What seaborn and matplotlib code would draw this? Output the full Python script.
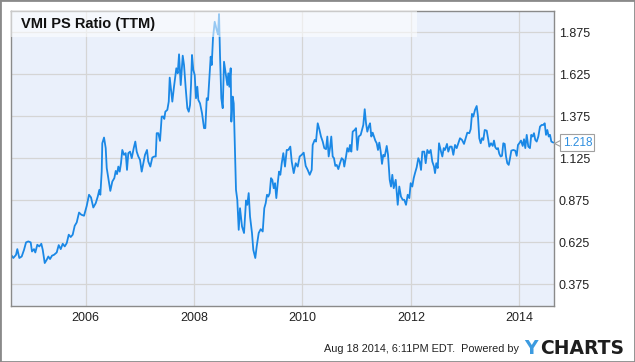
import numpy as np
import pandas as pd
import matplotlib
matplotlib.use("Agg")
import matplotlib.pyplot as plt
import seaborn as sns
from matplotlib.patches import Rectangle

# VMI price / sales ratio (TTM)
years = [
    2004.635, 2004.664, 2004.714, 2004.738, 2004.775, 2004.819, 2004.862, 2004.899, 2004.941, 2004.985,
    2005.009, 2005.046, 2005.070, 2005.107, 2005.144, 2005.181, 2005.207, 2005.244, 2005.281, 2005.310,
    2005.342, 2005.378, 2005.415, 2005.465, 2005.502, 2005.539, 2005.576, 2005.613, 2005.650, 2005.687,
    2005.723, 2005.760, 2005.797, 2005.834, 2005.877, 2005.919, 2005.969, 2006.019, 2006.061, 2006.098,
    2006.140, 2006.185, 2006.222, 2006.251, 2006.270, 2006.295, 2006.306, 2006.338, 2006.369, 2006.388,
    2006.417, 2006.454, 2006.491, 2006.528, 2006.554, 2006.578, 2006.602, 2006.627, 2006.651, 2006.675,
    2006.707, 2006.738, 2006.762, 2006.786, 2006.818, 2006.849, 2006.886, 2006.915, 2006.941, 2006.971,
    2007.002, 2007.033, 2007.070, 2007.094, 2007.131, 2007.155, 2007.192, 2007.229, 2007.266, 2007.292,
    2007.310, 2007.340, 2007.371, 2007.402, 2007.432, 2007.450, 2007.469, 2007.506, 2007.532, 2007.550,
    2007.580, 2007.598, 2007.629, 2007.653, 2007.672, 2007.698, 2007.722, 2007.753, 2007.790, 2007.814,
    2007.845, 2007.875, 2007.901, 2007.925, 2007.943, 2007.961, 2007.985, 2008.011, 2008.035, 2008.059,
    2008.078, 2008.109, 2008.146, 2008.183, 2008.207, 2008.233, 2008.257, 2008.281, 2008.306, 2008.325,
    2008.349, 2008.380, 2008.417, 2008.441, 2008.460, 2008.478, 2008.502, 2008.528, 2008.552, 2008.583,
    2008.613, 2008.631, 2008.650, 2008.675, 2008.687, 2008.712, 2008.731, 2008.755, 2008.773, 2008.797,
    2008.823, 2008.847, 2008.884, 2008.921, 2008.958, 2008.982, 2009.007, 2009.032, 2009.068, 2009.092,
    2009.129, 2009.155, 2009.192, 2009.229, 2009.266, 2009.295, 2009.321, 2009.345, 2009.369, 2009.395,
    2009.419, 2009.443, 2009.469, 2009.493, 2009.517, 2009.543, 2009.567, 2009.591, 2009.617, 2009.646,
    2009.677, 2009.709, 2009.738, 2009.775, 2009.801, 2009.838, 2009.875, 2009.912, 2009.948, 2009.985,
    2010.022, 2010.059, 2010.096, 2010.133, 2010.170, 2010.188, 2010.225, 2010.249, 2010.281, 2010.310,
    2010.341, 2010.373, 2010.402, 2010.434, 2010.458, 2010.483, 2010.507, 2010.531, 2010.557, 2010.581,
    2010.605, 2010.631, 2010.661, 2010.692, 2010.723, 2010.753, 2010.771, 2010.803, 2010.827, 2010.853,
    2010.877, 2010.901, 2010.926, 2010.963, 2010.987, 2011.011, 2011.037, 2011.074, 2011.098, 2011.122,
    2011.148, 2011.172, 2011.196, 2011.222, 2011.246, 2011.270, 2011.295, 2011.319, 2011.343, 2011.369,
    2011.393, 2011.417, 2011.443, 2011.467, 2011.491, 2011.517, 2011.554, 2011.578, 2011.609, 2011.633,
    2011.657, 2011.683, 2011.720, 2011.757, 2011.786, 2011.817, 2011.849, 2011.878, 2011.910, 2011.941,
    2011.971, 2011.996, 2012.026, 2012.052, 2012.076, 2012.107, 2012.137, 2012.162, 2012.187, 2012.211,
    2012.247, 2012.273, 2012.303, 2012.334, 2012.365, 2012.395, 2012.426, 2012.445, 2012.469, 2012.495,
    2012.519, 2012.556, 2012.580, 2012.606, 2012.629, 2012.666, 2012.690, 2012.722, 2012.753, 2012.783,
    2012.814, 2012.845, 2012.875, 2012.906, 2012.943, 2012.980, 2013.011, 2013.041, 2013.078, 2013.103,
    2013.127, 2013.151, 2013.183, 2013.214, 2013.238, 2013.262, 2013.288, 2013.312, 2013.336, 2013.362,
    2013.399, 2013.428, 2013.447, 2013.478, 2013.510, 2013.533, 2013.557, 2013.583, 2013.607, 2013.631,
    2013.657, 2013.681, 2013.705, 2013.731, 2013.755, 2013.779, 2013.805, 2013.829, 2013.853, 2013.890,
    2013.926, 2013.952, 2013.976, 2014.000, 2014.031, 2014.063, 2014.087, 2014.111, 2014.137, 2014.166,
    2014.197, 2014.221, 2014.247, 2014.271, 2014.295, 2014.321, 2014.351, 2014.382, 2014.413, 2014.443,
    2014.469, 2014.493, 2014.517, 2014.543, 2014.567, 2014.591, 2014.628,
]
ps_ratio = [
    0.544, 0.530, 0.549, 0.583, 0.530, 0.539, 0.579, 0.623, 0.629, 0.623,
    0.569, 0.583, 0.563, 0.609, 0.599, 0.615, 0.579, 0.500, 0.520, 0.539,
    0.524, 0.544, 0.549, 0.563, 0.607, 0.583, 0.615, 0.599, 0.619, 0.669,
    0.655, 0.669, 0.722, 0.742, 0.801, 0.788, 0.782, 0.841, 0.907, 0.891,
    0.831, 0.857, 0.896, 0.936, 0.907, 1.045, 1.214, 1.248, 1.185, 1.066,
    1.006, 0.930, 0.986, 1.006, 1.049, 1.030, 1.075, 1.045, 1.095, 1.174,
    1.145, 1.155, 1.055, 1.155, 1.164, 1.125, 1.185, 1.224, 1.164, 1.135,
    1.115, 1.045, 1.105, 1.145, 1.174, 1.105, 1.075, 1.129, 1.135, 1.135,
    1.274, 1.274, 1.228, 1.373, 1.373, 1.359, 1.402, 1.413, 1.462, 1.605,
    1.512, 1.462, 1.551, 1.611, 1.661, 1.631, 1.744, 1.561, 1.736, 1.680,
    1.542, 1.423, 1.402, 1.442, 1.561, 1.740, 1.651, 1.621, 1.482, 1.551,
    1.472, 1.452, 1.393, 1.304, 1.304, 1.482, 1.472, 1.601, 1.730, 1.680,
    1.843, 1.938, 1.889, 1.863, 1.984, 1.740, 1.482, 1.423, 1.700, 1.631,
    1.561, 1.631, 1.551, 1.661, 1.343, 1.492, 1.452, 1.145, 0.936, 0.877,
    0.698, 0.827, 0.718, 0.679, 0.873, 0.847, 0.917, 0.777, 0.679, 0.579,
    0.530, 0.599, 0.679, 0.702, 0.688, 0.827, 0.857, 0.907, 0.896, 0.917,
    1.006, 0.996, 0.946, 0.976, 0.887, 0.976, 1.045, 1.026, 1.095, 1.155,
    1.075, 1.174, 1.174, 1.194, 1.105, 1.036, 1.095, 1.075, 1.135, 1.145,
    1.158, 1.079, 1.055, 1.026, 1.055, 1.204, 1.234, 1.224, 1.333, 1.298,
    1.254, 1.224, 1.185, 1.179, 1.254, 1.135, 1.185, 1.254, 1.135, 1.125,
    1.079, 1.085, 1.060, 1.095, 1.125, 1.115, 1.075, 1.135, 1.185, 1.164,
    1.204, 1.164, 1.283, 1.293, 1.304, 1.174, 1.254, 1.264, 1.293, 1.323,
    1.417, 1.333, 1.283, 1.313, 1.333, 1.254, 1.277, 1.254, 1.230, 1.214,
    1.174, 1.218, 1.164, 1.091, 1.145, 1.135, 1.198, 1.145, 0.996, 0.956,
    1.026, 0.946, 0.996, 0.847, 0.956, 0.896, 0.877, 0.877, 0.847, 0.907,
    0.887, 0.976, 0.956, 1.006, 1.036, 1.071, 1.125, 1.105, 1.055, 1.164,
    1.164, 1.095, 1.174, 1.155, 1.174, 1.105, 1.075, 1.036, 1.095, 1.066,
    1.214, 1.164, 1.135, 1.185, 1.174, 1.210, 1.164, 1.194, 1.194, 1.145,
    1.204, 1.185, 1.214, 1.244, 1.234, 1.210, 1.244, 1.277, 1.274, 1.298,
    1.389, 1.373, 1.413, 1.436, 1.373, 1.244, 1.214, 1.244, 1.234, 1.293,
    1.289, 1.234, 1.194, 1.214, 1.198, 1.230, 1.190, 1.179, 1.185, 1.151,
    1.135, 1.139, 1.214, 1.210, 1.135, 1.095, 1.085, 1.125, 1.170, 1.174,
    1.170, 1.139, 1.204, 1.214, 1.230, 1.198, 1.238, 1.185, 1.264, 1.194,
    1.185, 1.264, 1.254, 1.274, 1.234, 1.224, 1.254, 1.313, 1.323, 1.323,
    1.333, 1.264, 1.293, 1.254, 1.264, 1.224, 1.218,
]
x_ticks = [2006, 2008, 2010, 2012, 2014]
y_ticks = [0.375, 0.625, 0.875, 1.125, 1.375, 1.625, 1.875]
title = "VMI PS Ratio (TTM)"
last_label = "1.218"
footer = "Aug 18 2014, 6:11PM EDT.  Powered by"

df = pd.DataFrame({"year": years, "ratio": ps_ratio})

sns.set_theme(style="white")
plt.rcParams["font.family"] = ["Liberation Sans", "DejaVu Sans"]

W, H = 635, 362
fig = plt.figure(figsize=(W / 100, H / 100), dpi=100)
fig.patch.set_facecolor("white")
ax = fig.add_axes([10.7 / W, 56 / H, 543.6 / W, 295.3 / H])
ax.set_facecolor("#eaf0fb")

line_blue = "#1a88e6"
sns.lineplot(data=df, x="year", y="ratio", ax=ax, color=line_blue, lw=1.3)

ax.set_xlim(2004.616, 2014.646)
ax.set_ylim(0.244, 2.004)
ax.set_xticks(x_ticks)
ax.set_xticklabels([str(t) for t in x_ticks])
ax.set_yticks(y_ticks)
ax.set_yticklabels([f"{t:.3f}" for t in y_ticks])
ax.yaxis.tick_right()
ax.tick_params(axis="both", length=0, labelsize=9, colors="#222222")
ax.tick_params(axis="y", pad=3.3)
ax.tick_params(axis="x", pad=4)
ax.set_xlabel("")
ax.set_ylabel("")
ax.grid(True, color="#d5d5d5", lw=0.9)
ax.set_axisbelow(True)
for sp in ax.spines.values():
    sp.set_color("#8a8a8a")
    sp.set_linewidth(1.0)

# title box, semi transparent over the line
ax.add_patch(Rectangle((0, 0.912), 0.747, 0.088, transform=ax.transAxes,
                       facecolor="white", alpha=0.55, edgecolor="none", zorder=4))
ax.text(0.019, 0.955, title, transform=ax.transAxes, fontsize=10.5,
        fontweight="bold", color="#111111", va="center", ha="left", zorder=5)

# last value tag
ytr = ax.get_yaxis_transform()
ax.plot([1.0075], [1.218], transform=ytr, marker="<", ms=6, mfc="white",
        mec="#a0a0a0", mew=0.8, clip_on=False, zorder=5)
ax.annotate(last_label, xy=(1, 1.218), xycoords=ytr, xytext=(6, 0),
            textcoords="offset points", ha="left", va="center", fontsize=8.5,
            color="#2f8fe0", zorder=6,
            bbox=dict(boxstyle="square,pad=0.2", fc="white", ec="#a0a0a0", lw=0.8))

# footer
fig.text(519 / W, 1 - 349 / H, footer, fontsize=7.8, color="#222222",
         va="center", ha="right")
fig.text(524 / W, 1 - 348 / H, "Y", fontsize=13.5, fontweight="bold",
         family="DejaVu Sans", color="#3c9be0", va="center", ha="left")
fig.text(540 / W, 1 - 348 / H, "CHARTS", fontsize=13.5, fontweight="bold",
         family="DejaVu Sans", color="#1e1e1e", va="center", ha="left")

fig.patches.append(Rectangle((0, 0), 1, 1, transform=fig.transFigure, fill=False,
                             edgecolor="#8a8a8a", lw=2))

fig.savefig("out.png", dpi=100)
